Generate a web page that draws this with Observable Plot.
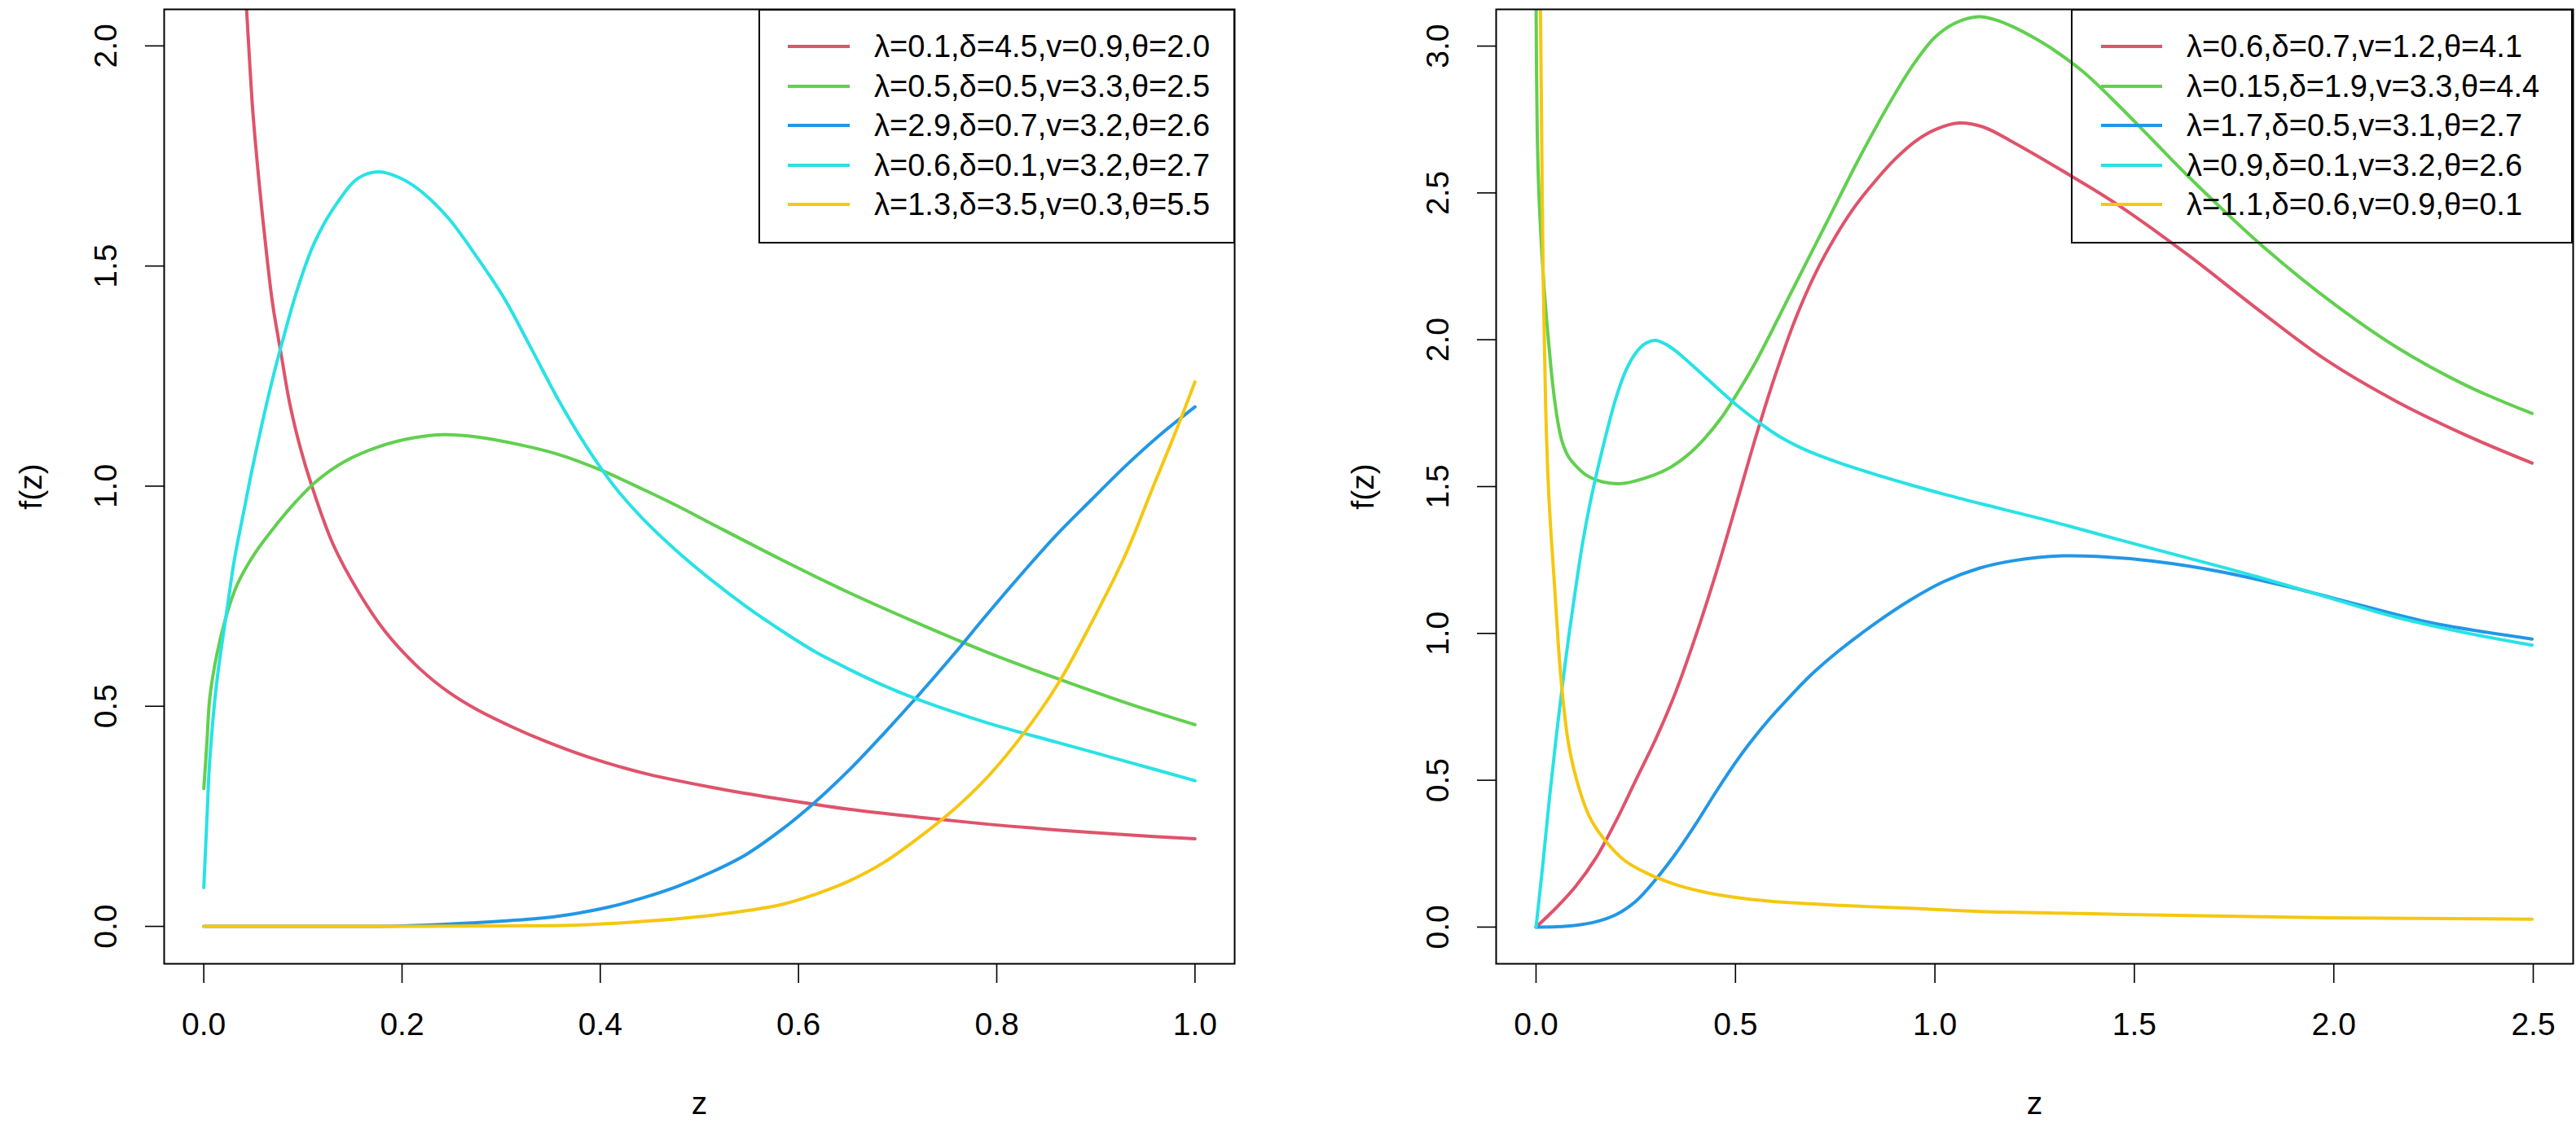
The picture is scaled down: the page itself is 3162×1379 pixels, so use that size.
<!DOCTYPE html>
<html>
<head>
<meta charset="utf-8">
<script src="https://cdn.jsdelivr.net/npm/d3@7"></script>
<script src="https://cdn.jsdelivr.net/npm/@observablehq/plot@0.6"></script>
<style>
  html, body { margin: 0; padding: 0; background: #fff; }
  #page { position: relative; width: 3162px; height: 1379px; overflow: hidden;
          font-family: "Liberation Sans", Arial, Helvetica, sans-serif; background: #fff; }
  .panel { position: absolute; top: 0; }
  .panel svg { display: block; }
  .legend { position: absolute; border: 2px solid #000; box-sizing: border-box; background: transparent; }
  .legend .sample { position: absolute; height: 4px; }
  .legend .label { position: absolute; font-size: 38px; line-height: 1; white-space: nowrap;
                   transform: translateY(-50%); color: #000; }
</style>
</head>
<body>
<div id="page">
  <div id="left" class="panel" style="left:0px"></div>
  <div id="right" class="panel" style="left:1581px"></div>
</div>
<script>
// ---------------- DATA ----------------
const seriesColors = ["#DF536B", "#61D04F", "#2297E6", "#28E2E5", "#F5C710"];

// Left panel: z in [0,1]
const leftLabels = [
  "λ=0.1,δ=4.5,v=0.9,θ=2.0",
  "λ=0.5,δ=0.5,v=3.3,θ=2.5",
  "λ=2.9,δ=0.7,v=3.2,θ=2.6",
  "λ=0.6,δ=0.1,v=3.2,θ=2.7",
  "λ=1.3,δ=3.5,v=0.3,θ=5.5"
];
const leftXTicks = [0, 0.2, 0.4, 0.6, 0.8, 1.0];
const leftYTicks = [0, 0.5, 1.0, 1.5, 2.0];

const leftRed = [[0.043,2.09],[0.0453,2.0],[0.0495,1.85],[0.0558,1.69],[0.0642,1.51],[0.0697,1.41],[0.078,1.30],
  [0.0865,1.19],[0.097,1.09],[0.109,1.0],[0.13,0.87],[0.156,0.76],[0.184,0.667],[0.219,0.583],[0.247,0.532],
  [0.275,0.493],[0.313,0.451],[0.344,0.421],[0.386,0.386],[0.442,0.349],[0.512,0.316],[0.582,0.289],[0.651,0.266],
  [0.721,0.248],[0.791,0.232],[0.861,0.219],[0.930,0.208],[1.0,0.199]];
const leftGreen = [[0,0.313],[0.003,0.412],[0.006,0.518],[0.013,0.616],[0.024,0.715],[0.034,0.778],[0.052,0.849],
  [0.073,0.912],[0.093,0.965],[0.114,1.012],[0.142,1.056],[0.177,1.090],[0.212,1.110],[0.243,1.117],[0.275,1.112],
  [0.317,1.095],[0.358,1.072],[0.400,1.037],[0.442,0.994],[0.477,0.956],[0.512,0.915],[0.582,0.834],[0.651,0.758],
  [0.721,0.688],[0.791,0.622],[0.861,0.563],[0.930,0.508],[1.0,0.458]];
const leftBlue = [[0,0],[0.1,0],[0.2,0.001],[0.271,0.008],[0.338,0.018],[0.372,0.028],[0.407,0.043],[0.442,0.064],
  [0.477,0.090],[0.512,0.123],[0.547,0.163],[0.582,0.218],[0.616,0.281],[0.651,0.355],[0.686,0.438],[0.721,0.525],
  [0.756,0.616],[0.791,0.711],[0.826,0.803],[0.861,0.891],[0.895,0.968],[0.930,1.046],[0.965,1.117],[1.0,1.180]];
const leftCyan = [[0,0.088],[0.003,0.236],[0.006,0.377],[0.013,0.553],[0.024,0.729],[0.031,0.835],[0.041,0.95],
  [0.048,1.03],[0.0586,1.14],[0.069,1.24],[0.0795,1.33],[0.0934,1.44],[0.111,1.55],[0.132,1.635],[0.156,1.700],
  [0.177,1.714],[0.198,1.700],[0.219,1.670],[0.247,1.608],[0.275,1.522],[0.303,1.427],[0.331,1.31],[0.358,1.195],
  [0.386,1.09],[0.414,1.0],[0.442,0.928],[0.477,0.853],[0.512,0.787],[0.547,0.727],[0.582,0.673],[0.616,0.625],
  [0.651,0.584],[0.686,0.547],[0.721,0.515],[0.791,0.462],[0.861,0.418],[0.930,0.375],[1.0,0.331]];
const leftYellow = [[0,0],[0.2,0],[0.3,0.001],[0.376,0.003],[0.442,0.011],[0.512,0.025],[0.582,0.049],[0.616,0.072],
  [0.651,0.103],[0.686,0.145],[0.721,0.201],[0.756,0.264],[0.791,0.340],[0.826,0.435],[0.861,0.548],[0.895,0.687],
  [0.930,0.845],[0.958,1.0],[0.979,1.115],[1.0,1.237]];

// Right panel: z in [0,2.5]
const rightLabels = [
  "λ=0.6,δ=0.7,v=1.2,θ=4.1",
  "λ=0.15,δ=1.9,v=3.3,θ=4.4",
  "λ=1.7,δ=0.5,v=3.1,θ=2.7",
  "λ=0.9,δ=0.1,v=3.2,θ=2.6",
  "λ=1.1,δ=0.6,v=0.9,θ=0.1"
];
const rightXTicks = [0, 0.5, 1.0, 1.5, 2.0, 2.5];
const rightYTicks = [0, 0.5, 1.0, 1.5, 2.0, 2.5, 3.0];

const rightRed = [[0,0],[0.05,0.065],[0.1,0.14],[0.15,0.235],[0.2,0.36],[0.25,0.5],[0.3,0.64],[0.35,0.80],
  [0.4,0.99],[0.45,1.20],[0.5,1.43],[0.55,1.665],[0.6,1.88],[0.65,2.07],[0.7,2.225],[0.75,2.35],[0.8,2.455],
  [0.85,2.54],[0.9,2.615],[0.95,2.675],[1.0,2.715],[1.06,2.738],[1.12,2.725],[1.198,2.671],[1.320,2.575],
  [1.459,2.459],[1.634,2.289],[1.808,2.105],[1.982,1.93],[2.157,1.79],[2.331,1.675],[2.497,1.58]];
const rightGreen = [[0,3.16],[0.003,2.71],[0.008,2.47],[0.02,2.18],[0.033,1.97],[0.04,1.87],[0.047,1.79],
  [0.056,1.71],[0.065,1.655],[0.08,1.605],[0.099,1.572],[0.125,1.54],[0.152,1.522],[0.185,1.512],[0.221,1.511],
  [0.291,1.537],[0.33,1.56],[0.378,1.605],[0.42,1.66],[0.465,1.735],[0.51,1.83],[0.553,1.93],[0.640,2.162],
  [0.727,2.395],[0.814,2.628],[0.901,2.84],[0.95,2.945],[1.0,3.03],[1.05,3.078],[1.11,3.10],[1.15,3.09],
  [1.2,3.063],[1.25,3.027],[1.3,2.985],[1.372,2.912],[1.459,2.80],[1.546,2.68],[1.634,2.558],[1.808,2.335],
  [1.982,2.141],[2.157,1.975],[2.331,1.845],[2.497,1.749]];
const rightBlue = [[0,0],[0.05,0.001],[0.1,0.006],[0.15,0.018],[0.2,0.042],[0.25,0.088],[0.3,0.162],[0.35,0.25],
  [0.4,0.35],[0.45,0.458],[0.5,0.56],[0.535,0.625],[0.588,0.713],[0.640,0.790],[0.692,0.862],[0.762,0.944],
  [0.850,1.034],[0.936,1.112],[1.023,1.177],[1.111,1.222],[1.198,1.248],[1.320,1.264],[1.407,1.262],[1.546,1.246],
  [1.721,1.209],[1.895,1.156],[2.069,1.095],[2.244,1.036],[2.497,0.981]];
const rightCyan = [[0,0],[0.016,0.2],[0.033,0.43],[0.05,0.64],[0.065,0.81],[0.082,0.99],[0.1,1.16],[0.117,1.31],
  [0.135,1.44],[0.152,1.545],[0.178,1.69],[0.2,1.80],[0.225,1.895],[0.25,1.955],[0.275,1.988],[0.30,1.998],
  [0.325,1.985],[0.35,1.962],[0.38,1.927],[0.413,1.887],[0.500,1.781],[0.588,1.69],[0.63,1.655],[0.675,1.625],
  [0.762,1.58],[0.866,1.535],[0.936,1.507],[1.023,1.474],[1.111,1.443],[1.285,1.384],[1.459,1.320],[1.634,1.257],
  [1.808,1.193],[1.982,1.124],[2.157,1.055],[2.331,1.002],[2.497,0.960]];
const rightYellow = [[0.011,3.13],[0.014,2.72],[0.018,2.2],[0.024,1.78],[0.031,1.5],[0.038,1.33],[0.047,1.15],
  [0.056,0.96],[0.065,0.81],[0.082,0.62],[0.108,0.472],[0.134,0.376],[0.169,0.302],[0.221,0.228],[0.274,0.186],
  [0.343,0.148],[0.413,0.122],[0.500,0.101],[0.588,0.088],[0.762,0.074],[0.936,0.064],[1.111,0.053],[1.372,0.046],
  [1.634,0.039],[1.982,0.032],[2.497,0.027]];

const xLabel = "z";
const yLabel = "f(z)";

// ---------------- DRAWING ----------------
const FONT = '"Liberation Sans", Arial, Helvetica, sans-serif';
const fmt = d3.format(".1f");

function panel({series, xDomain, yDomain, xTicks, yTicks, marginLeft, marginRight}) {
  const marks = [];
  series.forEach((pts, i) => {
    marks.push(Plot.line(pts, {
      x: d => d[0], y: d => d[1],
      stroke: seriesColors[i], strokeWidth: 4, curve: "catmull-rom", clip: true
    }));
  });
  marks.push(Plot.frame({stroke: "#000", strokeWidth: 2}));
  marks.push(Plot.axisX({ticks: xTicks, tickSize: 24, tickFormat: () => "", label: null, strokeWidth: 1.6}));
  marks.push(Plot.axisY({ticks: yTicks, tickSize: 23, tickFormat: () => "", label: null, strokeWidth: 1.6}));
  marks.push(Plot.text(xTicks, {x: d => d, y: yDomain[0], text: d => fmt(d), dy: 75,
    lineAnchor: "middle", textAnchor: "middle", fontSize: 39, fill: "#000"}));
  marks.push(Plot.text(yTicks, {x: xDomain[0], y: d => d, text: d => fmt(d), dx: -71, rotate: -90,
    lineAnchor: "middle", textAnchor: "middle", fontSize: 39, fill: "#000"}));
  marks.push(Plot.text([xLabel], {frameAnchor: "bottom", text: d => d, dy: 172,
    lineAnchor: "middle", textAnchor: "middle", fontSize: 39, fill: "#000"}));
  marks.push(Plot.text([yLabel], {frameAnchor: "left", text: d => d, dx: -163, rotate: -90,
    lineAnchor: "middle", textAnchor: "middle", fontSize: 39, fill: "#000"}));
  return Plot.plot({
    width: 1581, height: 1379,
    marginLeft, marginRight, marginTop: 11, marginBottom: 196,
    x: {domain: xDomain}, y: {domain: yDomain},
    style: {fontFamily: FONT, fontSize: "39px", background: "transparent", overflow: "visible"},
    marks
  });
}

document.getElementById("left").appendChild(panel({
  series: [leftRed, leftGreen, leftBlue, leftCyan, leftYellow],
  xDomain: [-0.04, 1.04], yDomain: [-0.085, 2.083],
  xTicks: leftXTicks, yTicks: leftYTicks, marginLeft: 201, marginRight: 66
}));
document.getElementById("right").appendChild(panel({
  series: [rightRed, rightGreen, rightBlue, rightCyan, rightYellow],
  xDomain: [-0.1, 2.6], yDomain: [-0.125, 3.125],
  xTicks: rightXTicks, yTicks: rightYTicks, marginLeft: 255, marginRight: 4
}));

function legend(labels, box) {
  const el = document.createElement("div");
  el.className = "legend";
  Object.assign(el.style, {left: box.left + "px", top: box.top + "px", width: box.width + "px", height: box.height + "px"});
  labels.forEach((lab, i) => {
    const cy = box.firstRow + box.rowStep * i;
    const s = document.createElement("div");
    s.className = "sample";
    Object.assign(s.style, {left: box.lineLeft + "px", width: box.lineWidth + "px", top: (cy - 2) + "px", background: seriesColors[i]});
    const t = document.createElement("div");
    t.className = "label";
    t.textContent = lab;
    Object.assign(t.style, {left: box.textLeft + "px", top: cy + "px"});
    el.appendChild(s); el.appendChild(t);
  });
  document.getElementById("page").appendChild(el);
}
legend(leftLabels, {left: 931, top: 11, width: 585, height: 288, firstRow: 44, rowStep: 48.5, lineLeft: 34, lineWidth: 76, textLeft: 140});
legend(rightLabels, {left: 2542, top: 11, width: 616, height: 288, firstRow: 44, rowStep: 48.5, lineLeft: 35, lineWidth: 75, textLeft: 140});
</script>
</body>
</html>
